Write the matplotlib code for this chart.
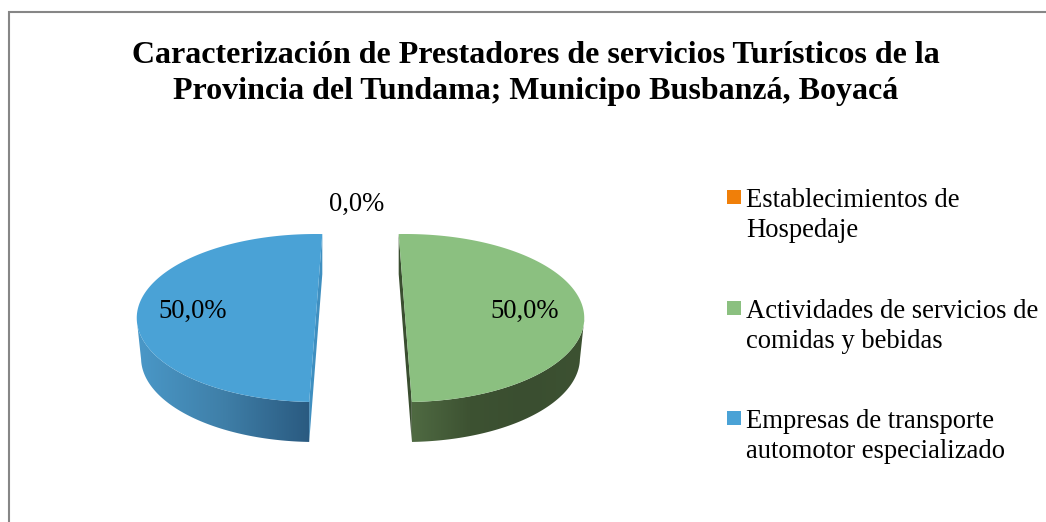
#!/usr/bin/env python3
"""Pastel 3D con dos sectores separados, dibujado a mano en coordenadas de pixel"""
import matplotlib
matplotlib.use("Agg")
import matplotlib.pyplot as plt
from matplotlib.colors import LinearSegmentedColormap
from matplotlib.patches import Polygon, Rectangle
import numpy as np

plt.rcParams["font.family"] = ["Liberation Serif", "DejaVu Serif"]

# ---- datos ----
categories = ["Establecimientos de\nHospedaje",
              "Actividades de servicios de\ncomidas y bebidas",
              "Empresas de transporte\nautomotor especializado"]
values = [0.0, 50.0, 50.0]
value_labels = ["0,0%", "50,0%", "50,0%"]
colors = ["#F07F09", "#8BC080", "#4AA2D6"]
# color de la pared exterior (de izquierda a derecha) y del corte
wall_colors = [None, ["#4F6A42", "#3D5232", "#3A4E30", "#3D5232"], ["#4A98C8", "#3F7FA8", "#2A5A80"]]
cut_colors = [None, "#3A4E30", "#3F8FC0"]
# giro de cada sector por la perspectiva: los cortes no quedan paralelos
tilts = [0.0, -2.1, 2.1]

W, H = 1046, 522
CX, CY = 360.5, 318     # centro del pastel
RX, RY = 179, 84
DEPTH = 40
NARROW = 0.975          # el arco de abajo es algo mas estrecho
EXPLODE = 0.25

label_pos = [(357, 211), (524.5, 318), (192.5, 318)]
legend_y = [190, 301, 411]


def pt(deg, cx, cy):
    a = np.radians(deg)
    return cx + RX * np.sin(a), cy - RY * np.cos(a)


fig = plt.figure(figsize=(W / 100, H / 100), dpi=100)
ax = fig.add_axes([0, 0, 1, 1])
ax.axis("off")

# ---- sectores ----
total = sum(values)
angle = 0.0
for val, col, wall, cut, tilt in zip(values, colors, wall_colors, cut_colors, tilts):
    sweep = 360 * val / total
    if sweep == 0:
        continue
    mid = angle + sweep / 2
    cx, cy = pt(mid, 0, 0)
    cx = CX + EXPLODE * cx
    cy = CY + EXPLODE * cy
    th = np.linspace(angle + tilt, angle + tilt + sweep, 181)
    xs, ys = pt(th, cx, cy)

    # cara del corte
    ax.add_patch(Polygon([(xs[0], ys[0]), (xs[-1], ys[-1]),
                          (xs[-1], ys[-1] + DEPTH), (xs[0], ys[0] + DEPTH)],
                         closed=True, fc=cut, ec="none", zorder=2))

    # pared exterior, solo la parte de abajo del arco
    front = np.cos(np.radians(th)) <= 0
    fx, fy = xs[front], ys[front]
    x_cut = fx[np.argmax(fy)]
    bx = x_cut + (fx - x_cut) * NARROW
    wall_poly = np.vstack([np.column_stack([fx, fy]),
                           np.column_stack([bx[::-1], fy[::-1] + DEPTH])])
    patch = Polygon(wall_poly, closed=True, fc="none", ec="none", zorder=3)
    ax.add_patch(patch)
    cmap = LinearSegmentedColormap.from_list("wall", wall)
    im = ax.imshow(np.linspace(0, 1, 256).reshape(1, -1), cmap=cmap, aspect="auto",
                   extent=(fx.min(), fx.max(), fy.max() + DEPTH, fy.min()), zorder=3)
    im.set_clip_path(patch)

    # tapa
    ax.add_patch(Polygon(np.column_stack([xs, ys]), closed=True, fc=col, ec="none", zorder=4))
    angle += sweep

for (x, y), txt in zip(label_pos, value_labels):
    ax.text(x, y, txt, fontsize=19.2, ha="center", va="baseline", color="black", zorder=5)

# ---- leyenda ----
for y, col, cat in zip(legend_y, colors, categories):
    ax.add_patch(Rectangle((727, y), 14, 14, fc=col, ec="none"))
    for k, line in enumerate(cat.split("\n")):
        ax.text(746, y + 17 + k * 30, line, fontsize=19.2, ha="left", va="baseline", color="black")

# ---- titulo ----
ax.text(536, 63, "Caracterización de Prestadores de servicios Turísticos de la",
        fontsize=23, fontweight="bold", ha="center", va="baseline")
ax.text(536, 99, "Provincia del Tundama; Municipo Busbanzá, Boyacá",
        fontsize=23, fontweight="bold", ha="center", va="baseline")

# ---- marco ----
ax.plot([9, 9, W], [H, 12, 12], color="#868686", linewidth=1.5, solid_capstyle="butt",
        solid_joinstyle="miter", zorder=1)

ax.set_xlim(0, W)
ax.set_ylim(H, 0)
fig.savefig("out.png", dpi=100)
